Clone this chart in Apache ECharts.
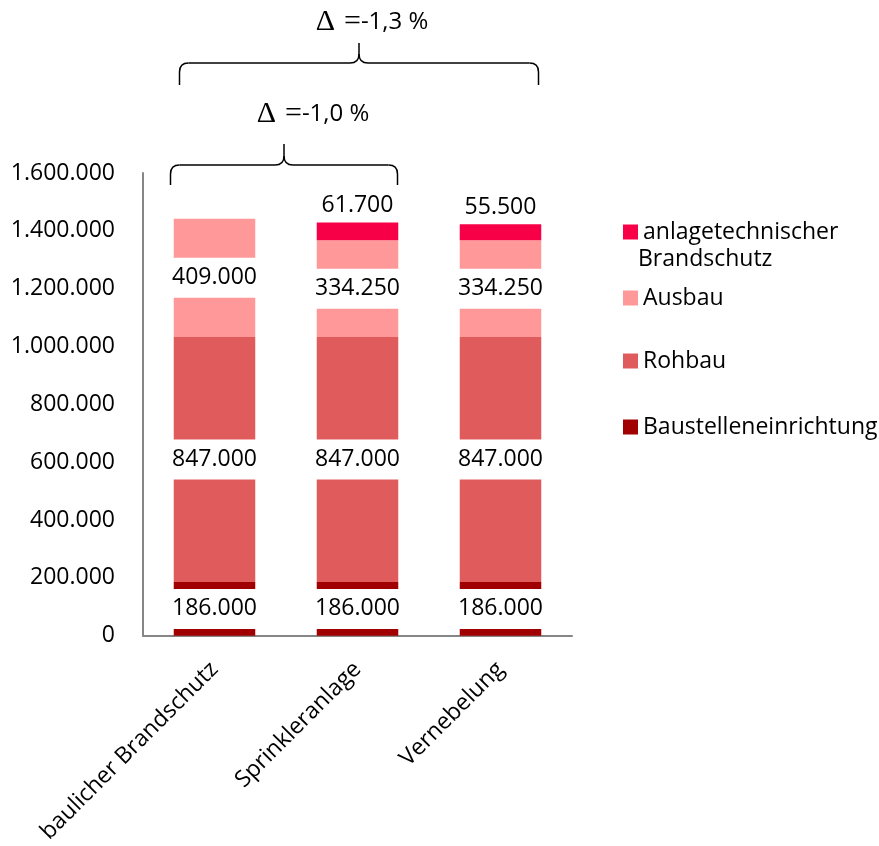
<!DOCTYPE html>
<html>
<head>
<meta charset="utf-8">
<script src="https://cdn.jsdelivr.net/npm/echarts@6/dist/echarts.min.js"></script>
<style>
  html, body { margin: 0; padding: 0; background: #fff; overflow: hidden; }
  #chart { width: 879px; height: 846px; }
</style>
</head>
<body>
<div id="chart"></div>
<script>
// Cost breakdown per fire protection concept (values in EUR)
const categories = ['baulicher Brandschutz', 'Sprinkleranlage', 'Vernebelung'];
const baustelleneinrichtung = [186000, 186000, 186000];
const rohbau = [847000, 847000, 847000];
const ausbau = [409000, 334250, 334250];
const anlagetechnik = [0, 61700, 55500];
const yMin = 0, yMax = 1600000, yStep = 200000;
const deltaLabels = ['-1,0 %', '-1,3 %'];

const FONT = 'Open Sans';

// German thousands separator: 1600000 -> 1.600.000
function de(v) {
  return String(Math.round(v)).replace(/\B(?=(\d{3})+(?!\d))/g, '.');
}

const innerLabel = {
  show: true,
  position: 'inside',
  color: '#000',
  fontFamily: FONT,
  fontSize: 23,
  lineHeight: 24,
  backgroundColor: '#fff',
  padding: [8, 2],
  formatter: p => de(p.value)
};

function legendItem(name, top, label) {
  return {
    data: [name],
    left: 618,
    top: top,
    orient: 'vertical',
    itemWidth: 15,
    itemHeight: 15,
    icon: 'rect',
    selectedMode: false,
    textStyle: { fontFamily: FONT, fontSize: 23, color: '#000', lineHeight: 30 },
    formatter: label ? () => label : undefined
  };
}

const option = {
  animation: false,
  backgroundColor: '#fff',
  grid: { left: 143, width: 429, top: 173, height: 467, containLabel: false },
  legend: [
    legendItem('anlagetechnischer Brandschutz', 212, 'anlagetechnischer'),
    legendItem('Ausbau', 278),
    legendItem('Rohbau', 341),
    legendItem('Baustelleneinrichtung', 407)
  ],
  xAxis: {
    type: 'category',
    data: categories,
    axisLine: { show: true, lineStyle: { color: '#868686', width: 2 } },
    axisTick: { show: false },
    axisLabel: {
      rotate: 45,
      margin: 30,
      interval: 0,
      color: '#000',
      fontFamily: FONT,
      fontSize: 23
    }
  },
  yAxis: {
    type: 'value',
    min: yMin,
    max: yMax,
    interval: yStep,
    axisLine: { show: true, lineStyle: { color: '#868686', width: 2 } },
    axisTick: { show: false },
    splitLine: { show: false },
    axisLabel: {
      margin: 28,
      color: '#000',
      fontFamily: FONT,
      fontSize: 23,
      formatter: v => de(v)
    }
  },
  series: [
    {
      name: 'Baustelleneinrichtung', type: 'bar', stack: 'kosten', barWidth: '57%',
      data: baustelleneinrichtung,
      itemStyle: { color: '#A00000' },
      label: innerLabel
    },
    {
      name: 'Rohbau', type: 'bar', stack: 'kosten', barWidth: '57%',
      data: rohbau,
      itemStyle: { color: '#E05C5C' },
      label: innerLabel
    },
    {
      name: 'Ausbau', type: 'bar', stack: 'kosten', barWidth: '57%',
      data: ausbau,
      itemStyle: { color: '#FF9999' },
      label: innerLabel
    },
    {
      name: 'anlagetechnischer Brandschutz', type: 'bar', stack: 'kosten', barWidth: '57%',
      data: anlagetechnik,
      itemStyle: { color: '#F80048' },
      label: {
        show: true,
        position: 'top',
        distance: 5,
        color: '#000',
        fontFamily: FONT,
        fontSize: 23,
        lineHeight: 24,
        formatter: p => (p.value ? de(p.value) : '')
      }
    }
  ]
};

const chart = echarts.init(document.getElementById('chart'), null, { renderer: 'canvas' });
chart.setOption(option);

// Curly brace built from straight segments and quadratic curves
const braceStyle = { stroke: '#000', lineWidth: 1.5, fill: null };
function brace(x1, x2, yh, yEnd, yTip) {
  const xm = (x1 + x2) / 2, r = 9;
  const line = (a, b, c, d) => ({ type: 'line', shape: { x1: a, y1: b, x2: c, y2: d }, style: braceStyle });
  const curve = (a, b, cx, cy, c, d) => ({
    type: 'bezierCurve', shape: { x1: a, y1: b, cpx1: cx, cpy1: cy, x2: c, y2: d }, style: braceStyle
  });
  return [
    line(x1, yEnd, x1, yh + r),
    curve(x1, yh + r, x1, yh, x1 + r, yh),
    line(x1 + r, yh, xm - r, yh),
    curve(xm - r, yh, xm, yh, xm, yh - r),
    line(xm, yh - r, xm, yTip),
    curve(xm, yh - r, xm, yh, xm + r, yh),
    line(xm + r, yh, x2 - r, yh),
    curve(x2 - r, yh, x2, yh, x2, yh + r),
    line(x2, yh + r, x2, yEnd)
  ];
}

// Delta caption: serif delta sign and equals sign, then the percentage
function deltaText(x, y, pct) {
  return {
    type: 'text', x: x, y: y,
    style: {
      text: '{d|Δ}{e|=}{t|' + pct + '}',
      align: 'center', verticalAlign: 'middle',
      rich: {
        d: { fontFamily: 'Liberation Serif', fontSize: 30, fill: '#000', padding: [0, 9, 0, 0] },
        e: { fontFamily: 'Liberation Serif', fontSize: 30, fill: '#000' },
        t: { fontFamily: FONT, fontSize: 24, fill: '#000' }
      }
    }
  };
}

const cx = i => chart.convertToPixel({ xAxisIndex: 0 }, categories[i]);
const lowL = cx(0) - 44, lowR = cx(1) + 40;
const topL = cx(0) - 35, topR = cx(2) + 38;

chart.setOption({
  graphic: [
    ...brace(lowL, lowR, 165, 185, 144),
    ...brace(topL, topR, 63, 85, 43),
    deltaText((lowL + lowR) / 2 + 29, 114, deltaLabels[0]),
    deltaText((topL + topR) / 2 + 13, 22, deltaLabels[1]),
    {
      type: 'text', x: 638, y: 259,
      style: { text: 'Brandschutz', fontFamily: FONT, fontSize: 23, fill: '#000', align: 'left', verticalAlign: 'middle' }
    }
  ]
});
</script>
</body>
</html>
